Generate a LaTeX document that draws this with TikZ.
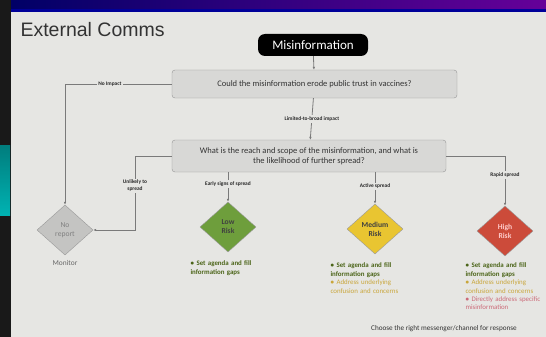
\documentclass[tikz,border=0pt]{standalone}
\usepackage{fontspec}
\setmainfont{Carlito}
\newfontfamily\titlefont{Liberation Sans}
\usetikzlibrary{shapes.geometric,arrows.meta}

\definecolor{slidebg}{HTML}{E6E6E3}
\definecolor{boxgray}{HTML}{D8D8D6}
\definecolor{linegray}{HTML}{7A7A7A}
\definecolor{nogray}{HTML}{C4C4C2}
\definecolor{lowgreen}{HTML}{6E9E3C}
\definecolor{medyellow}{HTML}{E9C531}
\definecolor{highred}{HTML}{CC4B3A}
\definecolor{txtgreen}{HTML}{4B6418}
\definecolor{txtyellow}{HTML}{C9A63A}
\definecolor{txtpink}{HTML}{CC6A78}

% one bullet with hanging lines
\newcommand\bitem[2]{\par\hangindent=6pt\hangafter=1\noindent
  \textcolor{#1}{\makebox[6pt][l]{\textbullet}#2}}

\begin{document}
\begin{tikzpicture}[x=1pt,y=-1pt,
    question/.style={draw=linegray!80, fill=boxgray, rounded corners=3pt,
      align=center, font=\fontsize{8.5}{10}\selectfont, text=black!80},
    risk/.style={diamond, draw=white!60!black, minimum width=56, minimum height=50,
      inner sep=0pt, align=center, font=\fontsize{7.6}{9}\selectfont},
    edgelabel/.style={fill=slidebg, inner sep=1.5pt, align=center,
      font=\fontsize{5.4}{6.4}\selectfont\bfseries, text=black!85},
    link/.style={draw=linegray, line width=0.8pt, -{Latex[length=3pt,width=2.6pt]}},
    actions/.style={anchor=north west, text width=95, align=left,
      font=\fontsize{6.9}{8.4}\selectfont\bfseries}]
  \useasboundingbox (0,0) rectangle (546,337);
  %photo frame and slide
  \fill[black!90] (0,0) rectangle (11,337);
  \shade[top color=teal!60!cyan!70!black, bottom color=cyan!40!teal] (0,145) rectangle (10,215);
  \fill[slidebg] (11,12) rectangle (546,337);
  \shade[left color=blue!40!black, right color=violet!80!blue] (11,0) rectangle (546,12);
  \fill[blue!60!black] (11,9) rectangle (546,12);

  \node[anchor=base west, font=\titlefont\fontsize{19.5}{22}\selectfont, text=black!80]
    (title) at (17,37) {External Comms};

  %boxes
  \node[fill=black, text=white, rounded corners=7pt, minimum width=110, minimum height=22,
    font=\fontsize{13}{15}\selectfont] (misinfo) at (313,45) {Misinformation};
  \node[question, minimum width=285, minimum height=28] (trust) at (314.5,84)
    {Could the misinformation erode public trust in vaccines?};
  \node[question, minimum width=274, minimum height=32] (reach) at (309,156)
    {What is the reach and scope of the misinformation, and what is\\the likelihood of further spread?};

  %diamonds
  \node[risk, fill=nogray, text=black!50] (noreport) at (65,230) {No\\report};
  \node[risk, fill=lowgreen, text=black!75, font=\fontsize{7.6}{9}\selectfont\bfseries] (low) at (228,227) {Low\\Risk};
  \node[risk, fill=medyellow, text=black!75, font=\fontsize{7.6}{9}\selectfont\bfseries] (medium) at (375,229) {Medium\\Risk};
  \node[risk, fill=highred, text=white!80!red, font=\fontsize{7.6}{9}\selectfont\bfseries] (high) at (505,231) {High\\Risk};

  %connectors
  \coordinate (bend) at (135,156);
  \draw[link] (misinfo) -- (trust);
  \draw[link] (trust.west) -| node[edgelabel, pos=0.29] {No Impact} (noreport.north);
  \draw[link] (trust) -- node[edgelabel] {Limited-to-broad impact} (reach);
  \draw[link] (reach.west) -- (bend) |- node[edgelabel, pos=0.2] {Unlikely to\\spread} (noreport.east);
  \draw[link] (reach.south -| low) -- node[edgelabel, pos=0.4] {Early signs of spread} (low);
  \draw[link] (reach.south -| medium) -- node[edgelabel, pos=0.45] {Active spread} (medium);
  \draw[link] (reach.east) -| node[edgelabel, pos=0.69] {Rapid spread} (high.north);

  %actions
  \node[font=\fontsize{7.4}{8}\selectfont, text=black!60] (monitor) at (65,263) {Monitor};
  \node[actions] (lowact) at (187,254)
    {\bitem{txtgreen}{Set agenda and fill\\information gaps}};
  \node[actions] (medact) at (327,256)
    {\bitem{txtgreen}{Set agenda and fill\\information gaps}
     \bitem{txtyellow}{\mdseries Address underlying\\confusion and concerns}};
  \node[actions] (highact) at (462,256)
    {\bitem{txtgreen}{Set agenda and fill\\information gaps}
     \bitem{txtyellow}{\mdseries Address underlying\\confusion and concerns}
     \bitem{txtpink}{\mdseries Directly address specific\\misinformation}};
  \node[font=\fontsize{7.2}{8}\selectfont, text=black!80] (channel) at (444,329)
    {Choose the right messenger/channel for response};
\end{tikzpicture}
\end{document}
